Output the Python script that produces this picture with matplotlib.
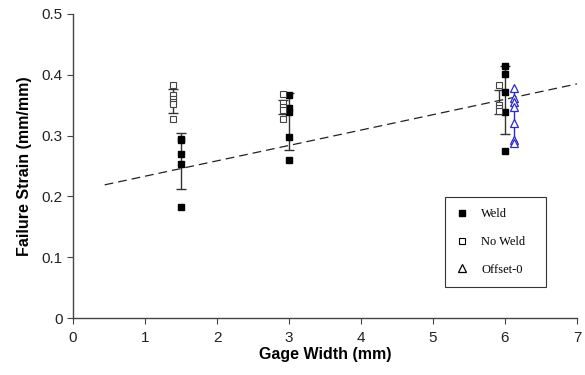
import matplotlib
matplotlib.use("Agg")
import matplotlib.pyplot as plt

# ── data ────────────────────────────────────────────────────
weld_x = [1.5, 1.5, 1.5, 1.5, 1.5, 3.0, 3.0, 3.0, 3.0, 3.0, 6.0, 6.0, 6.0, 6.0, 6.0]
weld_y = [0.295, 0.292, 0.269, 0.253, 0.183, 0.367, 0.345, 0.339, 0.297, 0.260,
          0.415, 0.401, 0.372, 0.339, 0.274]
noweld_x = [1.39, 1.39, 1.39, 1.39, 1.39, 1.39, 2.91, 2.91, 2.91, 2.91, 2.91,
            5.91, 5.91, 5.91, 5.91]
noweld_y = [0.383, 0.367, 0.361, 0.356, 0.352, 0.328, 0.368, 0.353, 0.347, 0.342, 0.327,
            0.383, 0.350, 0.345, 0.340]
offset_x = [6.12, 6.12, 6.12, 6.12, 6.12, 6.12, 6.12]
offset_y = [0.378, 0.362, 0.356, 0.347, 0.321, 0.293, 0.287]

# mean and error bars per group
weld_mx = [1.5, 3.0, 6.0]
weld_mean = [0.258, 0.323, 0.359]
weld_err = [0.046, 0.047, 0.056]
noweld_mx = [1.39, 2.91, 5.91]
noweld_mean = [0.357, 0.347, 0.355]
noweld_err = [0.020, 0.011, 0.020]
offset_mx = [6.12]
offset_mean = [0.333]
offset_err = [0.042]

# linear trend line
trend_x = [0.44, 7.0]
trend_y = [0.219, 0.385]

plt.rcParams["font.family"] = ["Liberation Sans", "DejaVu Sans"]

fig = plt.figure(figsize=(5.85, 3.75), dpi=100)
ax = fig.add_axes([0.1248, 0.152, 0.8615, 0.8107])

ax.plot(trend_x, trend_y, color="#222222", lw=0.9, ls=(0, (7, 4)), zorder=1)

ax.errorbar(weld_mx, weld_mean, yerr=weld_err, fmt="none", ecolor="#333333",
            elinewidth=1.0, capsize=3.5, capthick=1.0, zorder=2)
ax.errorbar(noweld_mx, noweld_mean, yerr=noweld_err, fmt="none", ecolor="#333333",
            elinewidth=1.0, capsize=3.5, capthick=1.0, zorder=2)
ax.errorbar(offset_mx, offset_mean, yerr=offset_err, fmt="none", ecolor="#2a2ad0",
            elinewidth=1.0, capsize=2, capthick=1.0, zorder=2)

ax.plot(weld_x, weld_y, ls="none", marker="s", ms=5, mfc="black", mec="black",
        zorder=3, label="Weld")
ax.plot(noweld_x, noweld_y, ls="none", marker="s", ms=5, mfc="white", mec="#444444",
        mew=0.8, zorder=3, label="No Weld")
ax.plot(offset_x, offset_y, ls="none", marker="^", ms=5.5, mfc="white", mec="#2a2ad0",
        mew=0.9, zorder=3, label="Offset-0")

ax.set_xlim(0, 7)
ax.set_ylim(0, 0.5)
ax.set_xticks(range(0, 8))
ax.set_yticks([0, 0.1, 0.2, 0.3, 0.4, 0.5])
ax.set_yticklabels(["0", "0.1", "0.2", "0.3", "0.4", "0.5"])
ax.spines["top"].set_visible(False)
ax.spines["right"].set_visible(False)
for s in ("left", "bottom"):
    ax.spines[s].set_color("#444444")
    ax.spines[s].set_linewidth(1.0)
ax.tick_params(axis="x", direction="out", length=4, color="#444444", labelsize=11,
               labelcolor="#222222", pad=5)
ax.tick_params(axis="y", direction="out", length=4, color="#444444", labelsize=11,
               labelcolor="#222222")
ax.set_xlabel("Gage Width (mm)", fontsize=11.5, fontweight="bold", labelpad=2)
ax.set_ylabel("Failure Strain (mm/mm)", fontsize=11.5, fontweight="bold", labelpad=7)

leg = ax.legend(loc="lower left", bbox_to_anchor=(0.738, 0.102, 0.2, 0.3),
                mode="expand", borderaxespad=0,
                prop={"family": "Liberation Serif", "size": 9},
                frameon=True, fancybox=False, edgecolor="black", labelspacing=1.25,
                handletextpad=1.0, borderpad=0.9, handlelength=1.0)
leg.get_frame().set_linewidth(0.8)
# legend markers are drawn black in the original
leg.legend_handles[1].set_markeredgecolor("black")
leg.legend_handles[2].set_markeredgecolor("black")

fig.savefig("out.png", dpi=100)
